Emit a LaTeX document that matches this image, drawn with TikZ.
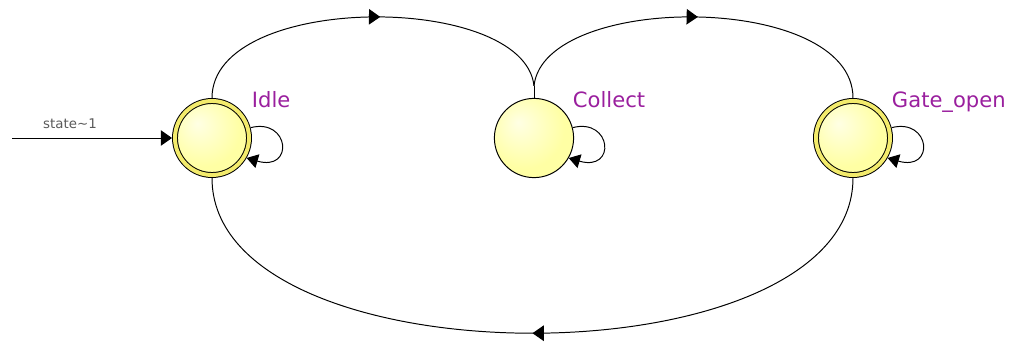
\documentclass[tikz,border=0pt]{standalone}
\usepackage{fontspec}
\usepackage{xcolor}
\usepackage{tikz}
\usetikzlibrary{arrows.meta, calc, decorations.markings, automata}
\newfontfamily\lblfont{DejaVu Sans}
\definecolor{cFILL}{HTML}{FFFFA4}
\definecolor{cLITE}{HTML}{FFFFE4}
\definecolor{cRING}{HTML}{F3EB6C}
\definecolor{cLBL}{HTML}{9A1F9E}
\definecolor{cINIT}{HTML}{5A5A5A}
\pgfdeclareradialshading{stateglow}{\pgfpoint{-10bp}{10bp}}{%
  color(0bp)=(cLITE); color(25bp)=(cFILL); color(60bp)=(cFILL)}
\tikzset{
  every state/.style={draw, line width=0.7pt, inner sep=0pt, shading=stateglow},
  plain/.style={minimum size=1.98cm},
  accepting/.style={double=cRING, double distance=2.8pt, minimum size=1.85cm,
    outer sep=2.1pt},
  statename/.style={text=cLBL, anchor=base west, font=\lblfont\fontsize{15}{18}\selectfont},
  edge/.style={line width=0.7pt},
  midarrow/.style={edge, postaction={decorate}, decoration={markings,
    mark=at position #1 with {\arrow{Triangle[length=8pt, width=11pt]}}}},
  midarrow/.default=0.5,
  selfloop/.style={edge, -{Triangle[length=8pt, width=10pt]}}
}

\begin{document}
\begin{tikzpicture}[x=0.025cm, y=-0.025cm]
  \useasboundingbox (0,0) rectangle (1009,350);

  % States
  \node[state, accepting] (idle) at (212,138) {};
  \node[state, plain] (collect) at (534,138) {};
  \node[state, accepting] (gate) at (853,138) {};

  % State names
  \node[statename] (idleLbl) at (247,107) {Idle};
  \node[statename] (collectLbl) at (568,107) {Collect};
  \node[statename] (gateLbl) at (887,107) {Gate\_open};

  % Initial transition
  \coordinate (start) at (12,138);
  \draw[edge, -{Triangle[length=8pt, width=11pt]}] (start) -- (idle);
  \node[text=cINIT, font=\lblfont\fontsize{9.5}{11}\selectfont] (initLbl) at (70,124) {state\textasciitilde1};

  % Top arcs, meeting in a stem above Collect
  \coordinate (stem) at ($(collect.north)+(0,-12)$);
  \draw[midarrow=0.53] (idle.north) .. controls +(0,-106) and +(-10,-94) .. (stem);
  \draw[midarrow] (stem) .. controls +(10,-94) and +(0,-106) .. (gate.north);
  \draw[edge] (stem) -- (collect.north);

  % Bottom arc back to Idle
  \draw[midarrow] (gate.south) .. controls +(0,207) and +(0,207) .. (idle.south);

  % Self loops
  \draw[selfloop] (idle.15) .. controls +(39,-10) and +(48,14) .. (idle.-30);
  \draw[selfloop] (collect.15) .. controls +(39,-10) and +(48,14) .. (collect.-30);
  \draw[selfloop] (gate.15) .. controls +(39,-10) and +(48,14) .. (gate.-30);
\end{tikzpicture}
\end{document}
